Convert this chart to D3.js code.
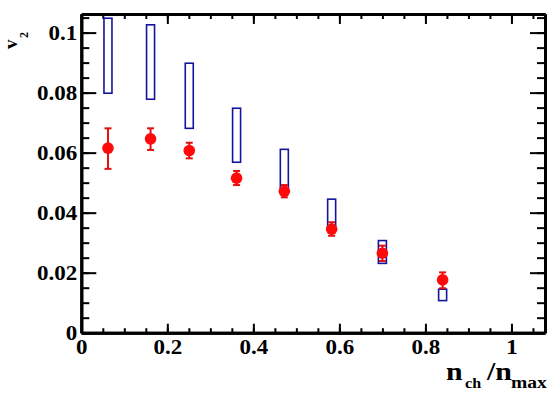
<!DOCTYPE html>
<html>
<head>
<meta charset="utf-8">
<script src="https://cdn.jsdelivr.net/npm/d3@7"></script>
<style>
  body { margin: 0; background: #fff; }
  svg text { font-family: "Liberation Serif", "Times New Roman", serif !important; font-weight: bold; }
</style>
</head>
<body>
<div id="chart"></div>
<script>
//data
const xVals   = [0.062, 0.161, 0.251, 0.361, 0.472, 0.582, 0.700, 0.840];
const v2      = [0.0615, 0.0646, 0.0607, 0.0515, 0.0471, 0.0345, 0.0265, 0.0176];
const errLow  = [0.0546, 0.0609, 0.0581, 0.0492, 0.0451, 0.0323, 0.0239, 0.0148];
const errHigh = [0.0681, 0.0681, 0.0633, 0.0539, 0.0492, 0.0368, 0.0290, 0.0201];
const boxLow  = [0.0798, 0.0778, 0.0681, 0.0568, 0.0472, 0.0342, 0.0231, 0.0107];
const boxHigh = [0.1048, 0.1026, 0.0898, 0.0748, 0.0611, 0.0445, 0.0307, 0.0145];

const xMajor = [0, 0.2, 0.4, 0.6, 0.8, 1];
const xMinor = d3.range(0, 1.06, 0.05);
const yMajor = [0, 0.02, 0.04, 0.06, 0.08, 0.1];
const yMinor = d3.range(0, 0.106, 0.005);

let width = 558,
    height = 396,
    margin = ({ top: 14, right: 13, bottom: 63.3, left: 81.3 });

const svg = d3.select("#chart")
  .append("svg")
  .attr("width", width)
  .attr("height", height);

let x = d3.scaleLinear()
  .domain([0, 1.078])
  .range([margin.left, width - margin.right]);

let y = d3.scaleLinear()
  .domain([0, 0.1062])
  .range([height - margin.bottom, margin.top]);

const fmt = d => d === 0 ? "0" : d3.format("")(+d.toFixed(2));

//style the axis groups the same way
function styleAxis(g) {
  g.attr("font-family", "Liberation Serif");
  g.select(".domain").attr("stroke-width", 3).attr("stroke", "#000");
  g.selectAll(".tick line").attr("stroke-width", 2).attr("stroke", "#000");
  g.selectAll(".tick text")
    .attr("fill", "#000")
    .style("font-family", "'Liberation Serif', serif")
    .style("font-weight", "bold")
    .style("font-size", "20px");
}

// bottom axis
svg.append("g")
  .attr("transform", `translate(0,${y(0)})`)
  .call(d3.axisBottom(x).tickValues(xMinor).tickFormat("").tickSize(-4.5).tickSizeOuter(0))
  .call(styleAxis);
svg.append("g")
  .attr("transform", `translate(0,${y(0)})`)
  .call(d3.axisBottom(x).tickValues(xMajor).tickFormat(fmt).tickSize(-9).tickSizeOuter(0).tickPadding(7.5))
  .call(styleAxis)
  .call(g => g.selectAll(".tick text").attr("transform", "scale(1.15,1)"));

// top axis
svg.append("g")
  .attr("transform", `translate(0,${margin.top})`)
  .call(d3.axisTop(x).tickValues(xMinor).tickFormat("").tickSize(-5).tickSizeOuter(0))
  .call(styleAxis);
svg.append("g")
  .attr("transform", `translate(0,${margin.top})`)
  .call(d3.axisTop(x).tickValues(xMajor).tickFormat("").tickSize(-10).tickSizeOuter(0))
  .call(styleAxis);

// left axis
svg.append("g")
  .attr("transform", `translate(${margin.left},0)`)
  .call(d3.axisLeft(y).tickValues(yMinor).tickFormat("").tickSize(-8).tickSizeOuter(0))
  .call(styleAxis);
svg.append("g")
  .attr("transform", `translate(${margin.left},0)`)
  .call(d3.axisLeft(y).tickValues(yMajor).tickFormat(fmt).tickSize(-15).tickSizeOuter(0).tickPadding(3.5))
  .call(styleAxis)
  .call(g => g.selectAll(".tick text").attr("transform", "scale(1.15,1)"));

// right axis
svg.append("g")
  .attr("transform", `translate(${width - margin.right},0)`)
  .call(d3.axisRight(y).tickValues(yMinor).tickFormat("").tickSize(-8).tickSizeOuter(0))
  .call(styleAxis);
svg.append("g")
  .attr("transform", `translate(${width - margin.right},0)`)
  .call(d3.axisRight(y).tickValues(yMajor).tickFormat("").tickSize(-15).tickSizeOuter(0))
  .call(styleAxis);

const data = xVals.map((d, i) => ({
  x: d, v: v2[i], lo: errLow[i], hi: errHigh[i], bLo: boxLow[i], bHi: boxHigh[i]
}));

// systematic boxes
svg.append("g")
  .selectAll("rect")
  .data(data)
  .join("rect")
  .attr("x", d => x(d.x) - 4)
  .attr("y", d => y(d.bHi))
  .attr("width", 8)
  .attr("height", d => y(d.bLo) - y(d.bHi))
  .attr("fill", "none")
  .attr("stroke", "#1414a0")
  .attr("stroke-width", 1.6);

// error bars
const err = svg.append("g").attr("stroke", "#e01010").attr("stroke-width", 2);
err.selectAll(".bar")
  .data(data)
  .join("line")
  .attr("x1", d => x(d.x)).attr("x2", d => x(d.x))
  .attr("y1", d => y(d.lo)).attr("y2", d => y(d.hi));
err.selectAll(".capLo")
  .data(data)
  .join("line")
  .attr("x1", d => x(d.x) - 3.5).attr("x2", d => x(d.x) + 3.5)
  .attr("y1", d => y(d.lo)).attr("y2", d => y(d.lo));
err.selectAll(".capHi")
  .data(data)
  .join("line")
  .attr("x1", d => x(d.x) - 3.5).attr("x2", d => x(d.x) + 3.5)
  .attr("y1", d => y(d.hi)).attr("y2", d => y(d.hi));

// points
svg.append("g")
  .attr("fill", "#ff0a0a")
  .selectAll("circle")
  .data(data)
  .join("circle")
  .attr("cx", d => x(d.x))
  .attr("cy", d => y(d.v))
  .attr("r", 5.8);

// x title  n_ch / n_max
const xt = svg.append("g").attr("fill", "#000");
xt.append("text").attr("transform", "translate(446,380) scale(1.15,1)").style("font-size", "26px").text("n");
xt.append("text").attr("transform", "translate(465,388) scale(1.15,1)").style("font-size", "14px").text("ch");
xt.append("text").attr("transform", "translate(487,380) scale(1.15,1)").style("font-size", "26px").text("/n");
xt.append("text").attr("transform", "translate(511,388) scale(1.15,1)").style("font-size", "17px").text("max");

// y title  v_2
const yt = svg.append("g").attr("fill", "#000");
yt.append("text").attr("transform", "translate(17,49) rotate(-90)").style("font-size", "19px").text("v");
yt.append("text").attr("transform", "translate(28,38) rotate(-90)").style("font-size", "12px").text("2");
</script>
</body>
</html>
